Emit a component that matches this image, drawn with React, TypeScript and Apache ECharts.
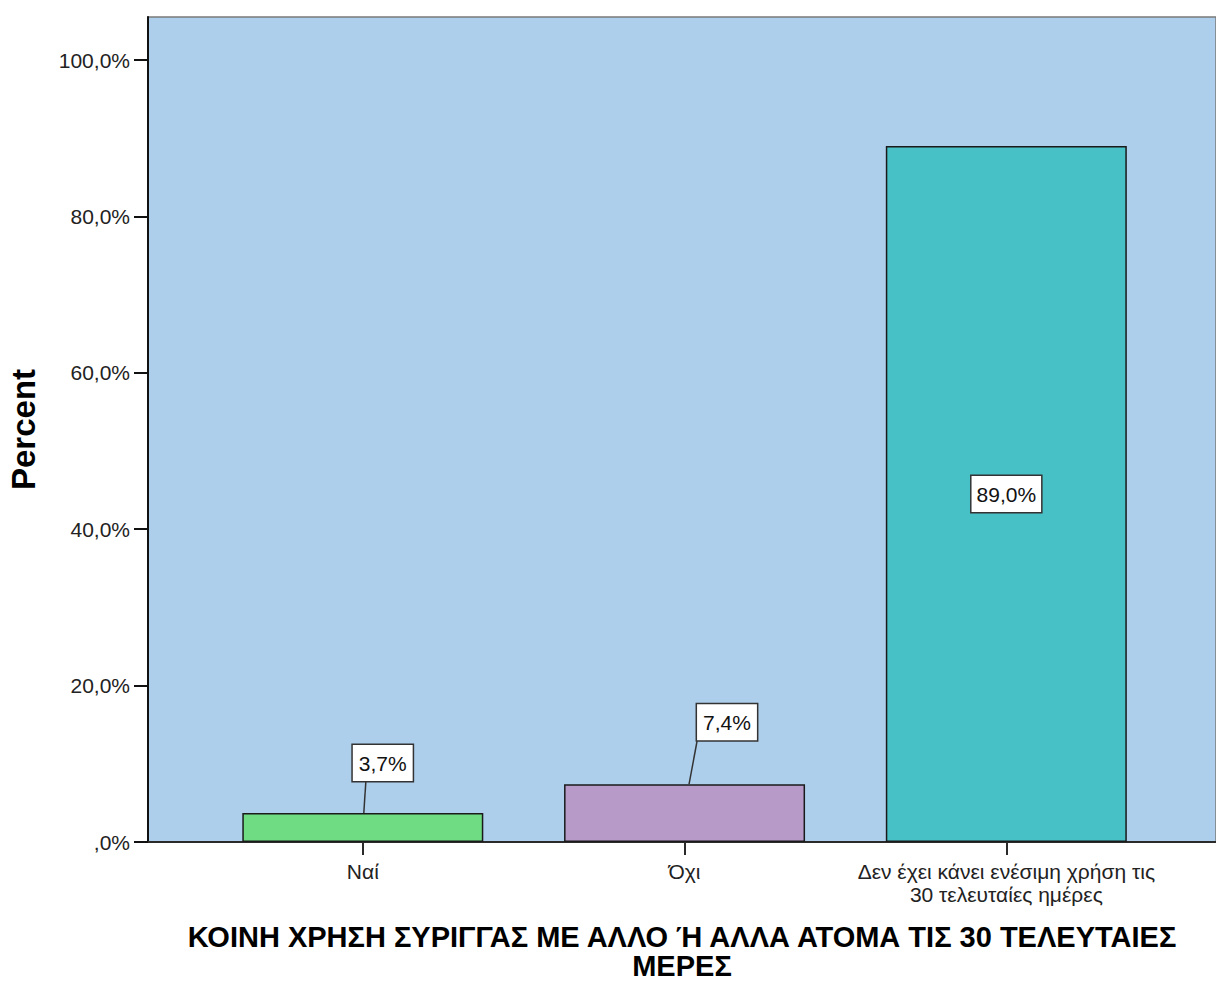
import React, { useEffect, useRef } from "react";
import * as echarts from "echarts";

const categories = ["Ναί", "Όχι", "Δεν έχει κάνει ενέσιμη χρήση τις\n30 τελευταίες ημέρες"];
const percents = [3.7, 7.4, 89.0];
const barColors = ["#6FDC84", "#B89AC8", "#48C1C6"];
const yTicks = [0, 20, 40, 60, 80, 100];
const xTitle = "ΚΟΙΝΗ ΧΡΗΣΗ ΣΥΡΙΓΓΑΣ ΜΕ ΑΛΛΟ Ή ΑΛΛΑ ΑΤΟΜΑ ΤΙΣ 30 ΤΕΛΕΥΤΑΙΕΣ\nΜΕΡΕΣ";
const yTitle = "Percent";

// callout styling for the small bars (pixel offsets from bar top centre)
const callouts = [
  { lineFrom: 1, lineTo: [3, -31], box: [-10, -68] },
  { lineFrom: 4.5, lineTo: [12.5, -43], box: [12.5, -80] },
];

const FONT = "'Liberation Sans', Arial, sans-serif";
const fmtPct = (v: number) => (v === 0 ? ",0%" : v.toFixed(1).replace(".", ",") + "%");

export default function App() {
  const ref = useRef<HTMLDivElement>(null);
  useEffect(() => {
    if (!ref.current) return;
    const chart = echarts.init(ref.current, undefined, { renderer: "svg" });
    const xMin = -0.6676;
    const xMax = 2.6517;
    const option: any = {
      animation: false,
      backgroundColor: "#ffffff",
      grid: {
        left: 148,
        right: 0,
        top: 17,
        bottom: 139,
        outerBoundsMode: "none",
        containLabel: false,
        show: true,
        backgroundColor: "#AECFEC",
        borderColor: "#7a7a7a",
        borderWidth: 1.5,
      },
      xAxis: {
        type: "value",
        min: xMin,
        max: xMax,
        splitLine: { show: false },
        axisLine: { show: true, onZero: false, lineStyle: { color: "#2a2a2a", width: 2 } },
        axisTick: { show: true, customValues: [0, 1, 2], length: 13, lineStyle: { color: "#2a2a2a", width: 2 } },
        axisLabel: {
          customValues: [0, 1, 2],
          formatter: (v: number) => categories[Math.round(v)],
          color: "#222",
          fontFamily: FONT,
          fontSize: 21,
          lineHeight: 23,
          margin: 18,
        },
        name: xTitle,
        nameLocation: "middle",
        nameGap: 80,
        nameTextStyle: {
          fontFamily: FONT,
          fontSize: 29,
          fontWeight: "bold",
          color: "#000",
          lineHeight: 29,
        },
      },
      yAxis: {
        type: "value",
        min: 0,
        max: 105.5,
        splitLine: { show: false },
        axisLine: { show: true, onZero: false, lineStyle: { color: "#111", width: 2 } },
        axisTick: { show: true, customValues: yTicks, length: 14, lineStyle: { color: "#111", width: 2 } },
        axisLabel: {
          customValues: yTicks,
          formatter: (v: number) => fmtPct(v),
          color: "#222",
          fontFamily: FONT,
          fontSize: 21,
          margin: 18,
        },
        name: yTitle,
        nameLocation: "middle",
        nameRotate: 90,
        nameGap: 108,
        nameTextStyle: {
          fontFamily: FONT,
          fontSize: 33,
          fontWeight: "bold",
          color: "#000",
        },
      },
      series: [
        {
          type: "bar",
          barWidth: 241,
          data: percents.map((v, i) => ({
            value: [i, v],
            itemStyle: { color: barColors[i] },
            label: i === 2 ? { show: true } : { show: false },
          })),
          itemStyle: { borderColor: "#1a1a1a", borderWidth: 1.5 },
          label: {
            position: "inside",
            formatter: (p: any) => fmtPct(p.value[1]),
            color: "#111",
            fontFamily: FONT,
            fontSize: 21,
            backgroundColor: "#ffffff",
            borderColor: "#333",
            borderWidth: 1.5,
            padding: [8, 5, 7, 5],
          },
        },
        {
          type: "custom",
          coordinateSystem: "cartesian2d",
          data: percents.slice(0, 2).map((v, i) => [i, v]),
          z: 5,
          renderItem: (params: any, api: any) => {
            const i = params.dataIndex;
            const c = callouts[i];
            const p = api.coord([api.value(0), api.value(1)]);
            return {
              type: "group",
              children: [
                {
                  type: "line",
                  shape: {
                    x1: p[0] + c.lineFrom,
                    y1: p[1],
                    x2: p[0] + c.lineTo[0],
                    y2: p[1] + c.lineTo[1],
                  },
                  style: { stroke: "#333", lineWidth: 1.5 },
                },
                {
                  type: "text",
                  x: p[0] + c.box[0],
                  y: p[1] + c.box[1],
                  style: {
                    text: fmtPct(api.value(1)),
                    fill: "#111",
                    font: `21px ${FONT}`,
                    align: "left",
                    verticalAlign: "top",
                    backgroundColor: "#ffffff",
                    borderColor: "#333",
                    borderWidth: 1.5,
                    padding: [8, 6, 7, 6],
                  },
                },
              ],
            };
          },
        },
      ],
    };
    chart.setOption(option);
    return () => chart.dispose();
  }, []);
  return (
    <div
      ref={ref}
      style={{ position: "absolute", left: 0, top: 0, width: 1216, height: 981 }}
    />
  );
}
